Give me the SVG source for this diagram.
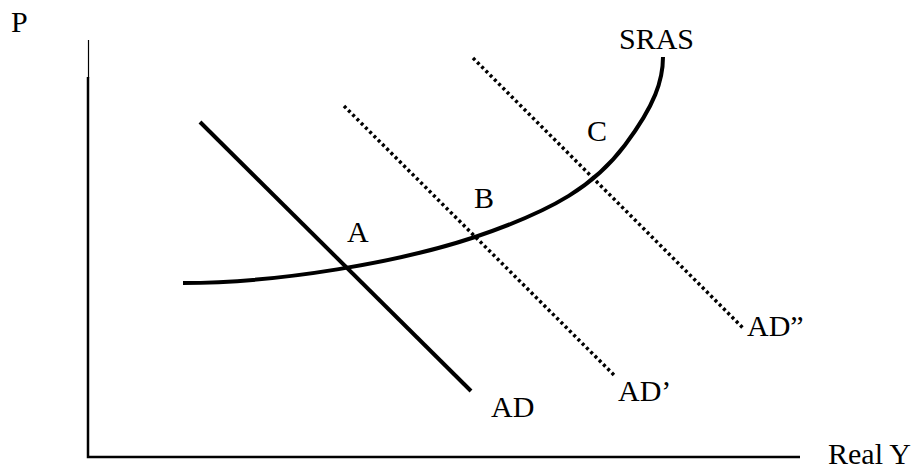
<svg xmlns="http://www.w3.org/2000/svg" width="921" height="468" viewBox="0 0 921 468">
<style>
text{font-family:"Liberation Serif","Times New Roman",serif;font-size:30px;fill:#000}
.axis{stroke:#000;stroke-width:2.5;fill:none}
.solid{stroke:#000;stroke-width:4;fill:none}
.dot{stroke:#000;stroke-width:3.5;stroke-dasharray:3 3;fill:none}
</style>
<rect width="921" height="468" fill="#fff"/>
<g id="axes">
<path stroke="#000" stroke-width="1.2" fill="none" d="M88.5,40 V78"/>
<path class="axis" d="M88,77 V457 H800"/>
<text x="11" y="32">P</text>
<text x="828" y="464">Real Y</text>
</g>
<g id="connectors">
<path id="AD-line" class="solid" d="M200,122 L471,391"/>
<path id="ADp-line" class="dot" d="M344,106 L616,377"/>
<path id="ADpp-line" class="dot" d="M473,58 L743,328"/>
<path id="SRAS-curve" class="solid" d="M183,283 C280,283 400,262 475,237 C555,210 595,185 625,145 C655,105 663,80 663,57"/>
</g>
<g id="labels">
<text x="619" y="49">SRAS</text>
<text x="587" y="141">C</text>
<text x="474" y="208">B</text>
<text x="347" y="242">A</text>
<text x="491" y="417">AD</text>
<text x="618" y="401">AD’</text>
<text x="747" y="336">AD”</text>
</g>
</svg>
